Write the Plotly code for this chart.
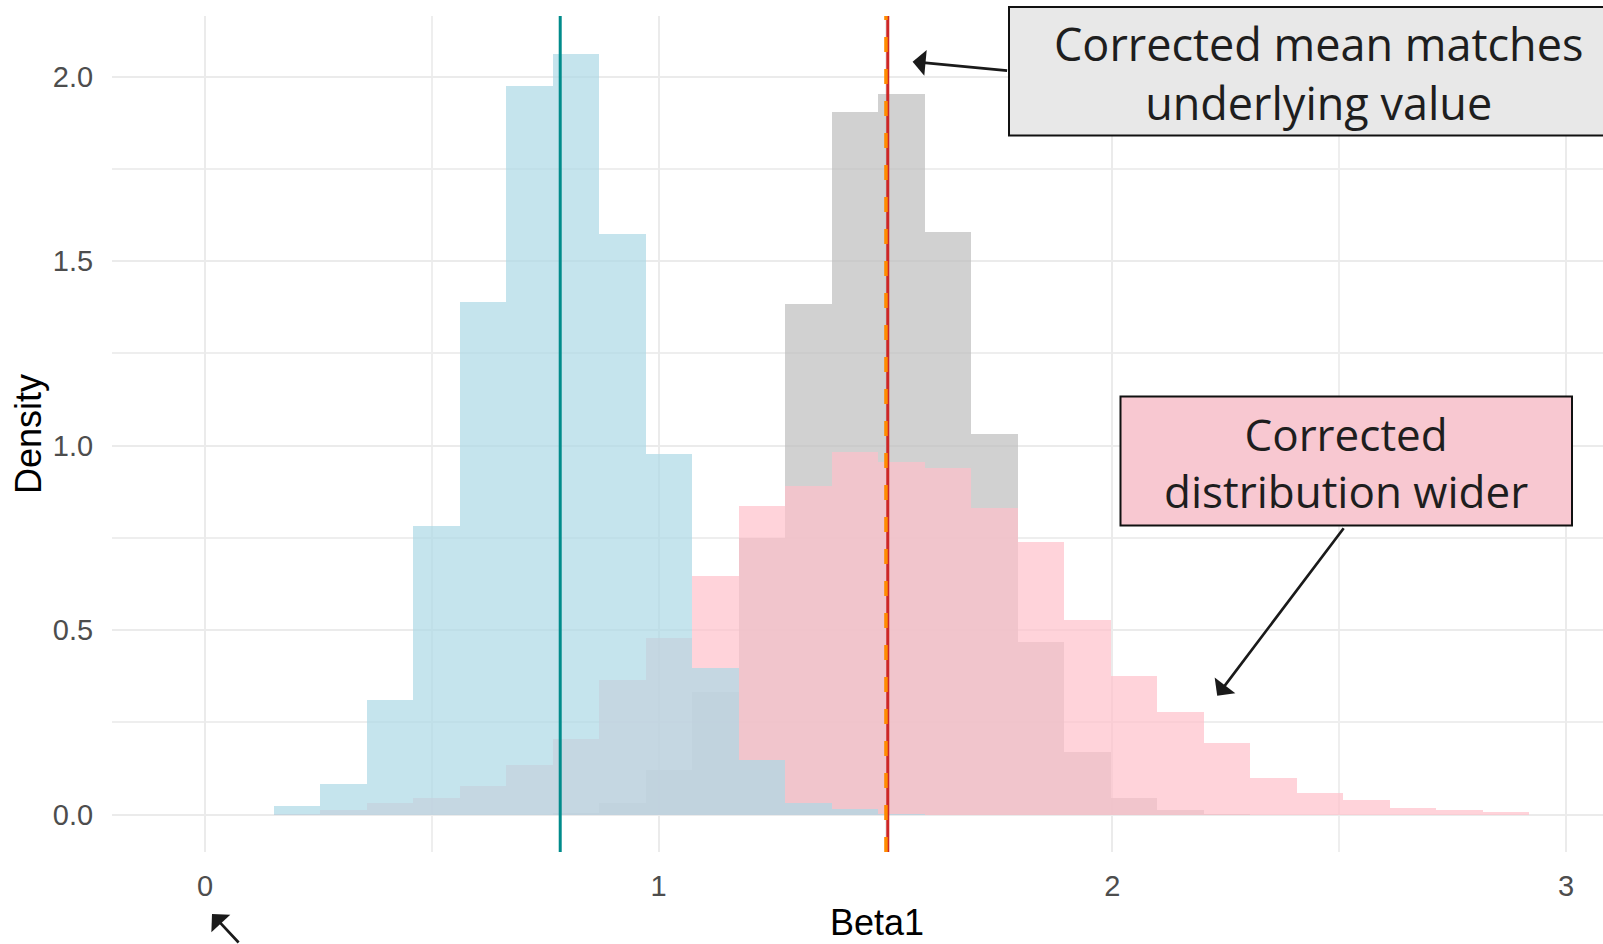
import plotly.graph_objects as go

# ---------------- data ----------------
bin_start = 0.152          # left edge of first histogram bin
bin_width = 0.1025         # common bin width

# density per bin, bins counted from bin_start
naive_density = [0.024, 0.083, 0.311, 0.782, 1.390, 1.975, 2.061, 1.574, 0.978,
                 0.398, 0.148, 0.031, 0.015, 0.003]
true_density = [0.000, 0.000, 0.000, 0.000, 0.000, 0.000, 0.005, 0.031, 0.121,
                0.333, 0.749, 1.384, 1.904, 1.952, 1.580, 1.032, 0.469, 0.171,
                0.046, 0.013, 0.003]
corrected_density = [0.002, 0.013, 0.031, 0.046, 0.079, 0.134, 0.204, 0.365, 0.480,
                     0.648, 0.837, 0.892, 0.982, 0.955, 0.940, 0.832, 0.740, 0.528,
                     0.376, 0.278, 0.193, 0.099, 0.058, 0.040, 0.018, 0.012, 0.006]

naive_mean = 0.783
true_value = 1.505
corrected_mean = 1.501

x_ticks = [0, 1, 2, 3]
x_ticktext = ["0", "1", "2", "3"]
y_ticks = [0, 0.5, 1.0, 1.5, 2.0]
y_ticktext = ["0.0", "0.5", "1.0", "1.5", "2.0"]

box1_text = "Corrected mean matches<br>underlying value"
box2_text = "Corrected<br>distribution wider"

# ---------------- layout geometry ----------------
W, H = 1603, 944
L, R, T, B = 112, 1603, 16, 852


def pxx(p):
    return (p - L) / (R - L)


def pxy(p):
    return (B - p) / (B - T)


def centers(n):
    return [bin_start + (i + 0.5) * bin_width for i in range(n)]


fig = go.Figure()
fig.add_trace(go.Bar(x=centers(len(true_density)), y=true_density, width=bin_width,
                     marker=dict(color="rgba(190,190,190,0.7)", line=dict(width=0)),
                     name="True", showlegend=False))
fig.add_trace(go.Bar(x=centers(len(corrected_density)), y=corrected_density, width=bin_width,
                     marker=dict(color="rgba(255,192,203,0.7)", line=dict(width=0)),
                     name="Corrected", showlegend=False))
fig.add_trace(go.Bar(x=centers(len(naive_density)), y=naive_density, width=bin_width,
                     marker=dict(color="rgba(173,216,230,0.7)", line=dict(width=0)),
                     name="Naive", showlegend=False))

# vertical reference lines
fig.add_shape(type="line", xref="x", yref="y domain", x0=naive_mean, x1=naive_mean,
              y0=0, y1=1, line=dict(color="#008B8B", width=3))
fig.add_shape(type="line", xref="x", yref="y domain", x0=true_value, x1=true_value,
              y0=0, y1=1, line=dict(color="#CD2626", width=3))
fig.add_shape(type="line", xref="x", yref="y domain", x0=corrected_mean, x1=corrected_mean,
              y0=0, y1=1, line=dict(color="#FF8C00", width=3.5, dash="15px,17px"))

# annotation boxes
fig.add_shape(type="rect", xref="paper", yref="paper",
              x0=pxx(1009), x1=pxx(1627), y0=pxy(135.5), y1=pxy(7),
              fillcolor="#E8E8E8", line=dict(color="#111111", width=2))
fig.add_shape(type="rect", xref="paper", yref="paper",
              x0=pxx(1120.5), x1=pxx(1572), y0=pxy(525.5), y1=pxy(396.6),
              fillcolor="#F8C8D1", line=dict(color="#111111", width=2))

fig.add_annotation(xref="paper", yref="paper", x=pxx(1318), y=pxy(73), text=box1_text,
                   showarrow=False, font=dict(family="Open Sans", size=45, color="#1E1E1E"),
                   xanchor="center", yanchor="middle")
fig.add_annotation(xref="paper", yref="paper", x=pxx(1346), y=pxy(462), text=box2_text,
                   showarrow=False, font=dict(family="Open Sans", size=44, color="#1E1E1E"),
                   xanchor="center", yanchor="middle")

# arrows
arrow_style = dict(showarrow=True, arrowhead=1, arrowsize=1.6, arrowwidth=2.7,
                   arrowcolor="#1A1A1A", text="", xref="paper", yref="paper")
fig.add_annotation(x=pxx(912.6), y=pxy(61.7), ax=96, ay=9, **arrow_style)
fig.add_annotation(x=pxx(1217.2), y=pxy(695.7), ax=127.6, ay=-169, **arrow_style)
fig.add_annotation(x=pxx(212), y=pxy(914), ax=28, ay=40, **arrow_style)

# axis titles
title_font = dict(family="Liberation Sans", size=36, color="#000000")
fig.add_annotation(xref="paper", yref="paper", x=pxx(877), y=pxy(944), text="Beta1",
                   showarrow=False, font=title_font, xanchor="center", yanchor="bottom",
                   borderpad=0)
fig.add_annotation(xref="paper", yref="paper", x=pxx(28), y=pxy(434), text="Density",
                   showarrow=False, font=title_font, textangle=-90,
                   xanchor="center", yanchor="middle")

tick_font = dict(family="Liberation Sans", size=29, color="#4D4D4D")
fig.update_layout(
    width=W, height=H,
    margin=dict(l=L, r=W - R, t=T, b=H - B, pad=0),
    plot_bgcolor="white", paper_bgcolor="white",
    barmode="overlay", bargap=0, showlegend=False,
    xaxis=dict(range=[(L - 205) / 453.67, (R - 205) / 453.67],
               tickvals=x_ticks, ticktext=x_ticktext, tickfont=tick_font,
               showgrid=True, gridcolor="#EBEBEB", gridwidth=2,
               minor=dict(tickvals=[0.5, 1.5, 2.5], showgrid=True,
                          gridcolor="#EEEEEE", gridwidth=1.5),
               zeroline=False, showline=False, ticks="outside", ticklen=8,
               tickcolor="rgba(0,0,0,0)"),
    yaxis=dict(range=[-(B - 814.7) / 369.0, (814.7 - T) / 369.0],
               tickvals=y_ticks, ticktext=y_ticktext, tickfont=tick_font,
               showgrid=True, gridcolor="#EBEBEB", gridwidth=2,
               minor=dict(tickvals=[0.25, 0.75, 1.25, 1.75], showgrid=True,
                          gridcolor="#EEEEEE", gridwidth=1.5),
               zeroline=False, showline=False, ticks="outside", ticklen=12,
               tickcolor="rgba(0,0,0,0)"),
)

fig.write_html("out.html", config={"displayModeBar": False},
               post_script="document.body.style.margin='0px';")
